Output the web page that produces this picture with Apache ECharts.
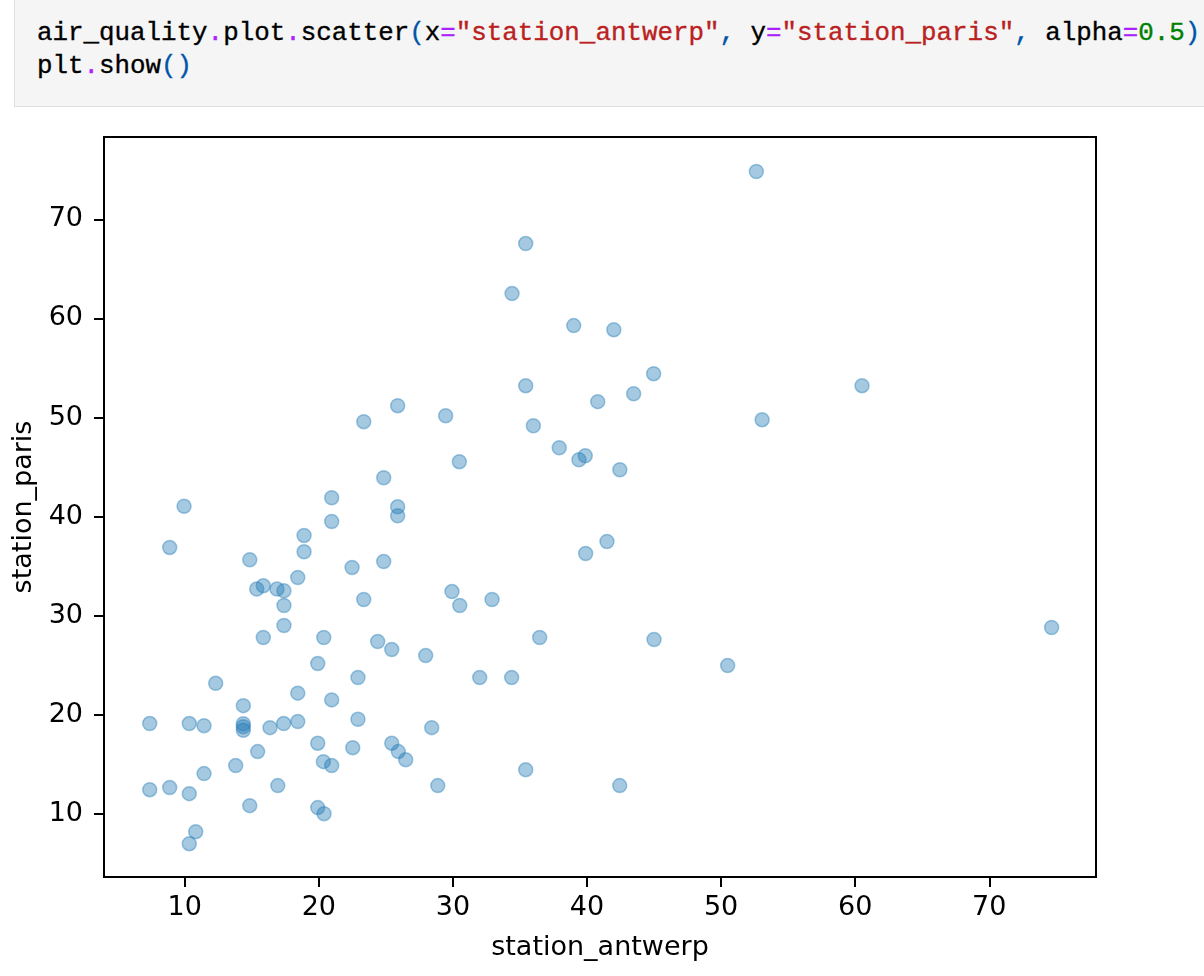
<!DOCTYPE html>
<html>
<head>
<meta charset="utf-8">
<script src="https://cdn.jsdelivr.net/npm/echarts@6/dist/echarts.min.js"></script>
<style>
  html, body { margin: 0; padding: 0; background: #fff; width: 1204px; height: 976px; overflow: hidden; }
  #chart { position: absolute; left: 0; top: 0; width: 1204px; height: 976px; }
  #cell { position: absolute; left: 14px; top: -10px; width: 1230px; height: 115px; background: #f5f5f5; border: 1px solid #e0e0e0; z-index: 2; }
  #cell pre { position: absolute; left: 22px; top: 26px; margin: 0; font-family: "Liberation Mono", "DejaVu Sans Mono", monospace; font-size: 25.85px; line-height: 33px; color: #000; -webkit-text-stroke: 0.35px currentColor; }
  .p { color: #aa22ff; }
  .b { color: #0055aa; }
  .s { color: #ba2121; }
  .n { color: #008000; }
</style>
</head>
<body>
<div id="cell"><pre>air_quality<span class="p">.</span>plot<span class="p">.</span>scatter<span class="b">(</span>x<span class="p">=</span><span class="s">"station_antwerp"</span><span class="b">,</span> y<span class="p">=</span><span class="s">"station_paris"</span><span class="b">,</span> alpha<span class="p">=</span><span class="n">0.5</span><span class="b">)</span>
plt<span class="p">.</span>show<span class="b">()</span></pre></div>
<div id="chart"></div>
<script>
// station_antwerp values (x)
const antwerp = [
  35.43, 34.41, 39.01, 35.43, 40.8, 25.88, 23.35, 29.46, 36.0, 37.93,
  39.4, 39.87, 30.48, 24.84, 20.96, 9.95, 25.88, 52.63, 42.0, 44.97,
  60.51, 43.48, 42.45, 53.06, 20.96, 8.88, 18.9, 18.9, 14.85, 22.48,
  18.43, 15.37, 15.86, 16.88, 17.4, 17.4, 17.4, 15.86, 20.37, 19.92,
  12.31, 18.43, 20.96, 14.37, 7.39, 10.34, 11.44, 14.37, 14.37, 14.37,
  16.36, 17.38, 18.43, 22.92, 19.92, 22.53, 20.34, 20.96, 15.44, 13.8,
  11.44, 7.39, 8.88, 10.34, 16.94, 14.85, 19.92, 20.39, 10.82, 10.34,
  25.88, 24.84, 23.35, 29.93, 30.51, 32.92, 39.9, 41.49, 36.47, 24.39,
  25.44, 27.97, 22.92, 32.0, 34.38, 28.42, 25.44, 25.93, 26.48, 35.43,
  28.87, 45.0, 50.49, 74.65, 42.44
];
// station_paris values (y)
const paris = [
  67.55, 62.5, 59.27, 53.21, 51.6, 51.19, 49.58, 50.18, 49.17, 46.95,
  45.74, 46.14, 45.54, 43.92, 41.9, 41.05, 40.99, 74.82, 58.86, 54.42,
  53.21, 52.4, 44.73, 49.78, 39.51, 36.89, 38.1, 36.45, 35.64, 34.87,
  33.86, 32.69, 33.02, 32.69, 32.51, 31.03, 29.01, 27.8, 27.8, 25.17,
  23.18, 22.19, 21.51, 20.93, 19.12, 19.12, 18.91, 19.1, 18.8, 18.45,
  18.71, 19.12, 19.32, 19.56, 17.14, 16.69, 15.28, 14.88, 16.29, 14.88,
  14.07, 12.45, 12.66, 12.05, 12.86, 10.84, 10.64, 10.03, 8.21, 7.0,
  40.09, 35.47, 31.64, 32.44, 31.03, 31.64, 36.28, 37.48, 27.8, 27.4,
  26.59, 25.98, 23.76, 23.76, 23.76, 18.71, 17.14, 16.29, 15.48, 14.47,
  12.86, 27.6, 24.97, 28.81, 12.86
];
const xTicks = [10, 20, 30, 40, 50, 60, 70];
const yTicks = [10, 20, 30, 40, 50, 60, 70];
const xName = 'station_antwerp';
const yName = 'station_paris';

const points = antwerp.map((v, i) => [v, paris[i]]);
const font = '"DejaVu Sans"';
const chart = echarts.init(document.getElementById('chart'), null, { renderer: 'canvas' });
const axisCommon = {
  type: 'value',
  splitLine: { show: false },
  axisLine: { show: true, onZero: false, lineStyle: { color: '#000', width: 2 } },
  axisTick: { show: true, length: 10, lineStyle: { color: '#000', width: 2 } },
  nameLocation: 'middle',
  nameTextStyle: { fontFamily: font, fontSize: 27, color: '#000' }
};
chart.setOption({
  animation: false,
  backgroundColor: 'transparent',
  grid: { left: 104, right: 108, top: 137, bottom: 99, show: true, borderColor: '#000', borderWidth: 2 },
  xAxis: Object.assign({}, axisCommon, {
    min: 3.98, max: 77.96,
    name: xName, nameGap: 57,
    axisTick: Object.assign({}, axisCommon.axisTick, { customValues: xTicks }),
    axisLabel: { customValues: xTicks, fontFamily: font, fontSize: 27, color: '#000', margin: 17 }
  }),
  yAxis: Object.assign({}, axisCommon, {
    min: 3.64, max: 78.3,
    name: yName, nameGap: 66,
    axisTick: Object.assign({}, axisCommon.axisTick, { customValues: yTicks }),
    axisLabel: { customValues: yTicks, fontFamily: font, fontSize: 27, color: '#000', margin: 21 }
  }),
  series: [{
    type: 'scatter',
    data: points,
    symbol: 'circle',
    symbolSize: 14,
    itemStyle: { color: 'rgba(31,119,180,0.5)', borderColor: 'rgba(31,119,180,0.5)', borderWidth: 1.5 },
    emphasis: { disabled: true }
  }]
});
</script>
</body>
</html>
